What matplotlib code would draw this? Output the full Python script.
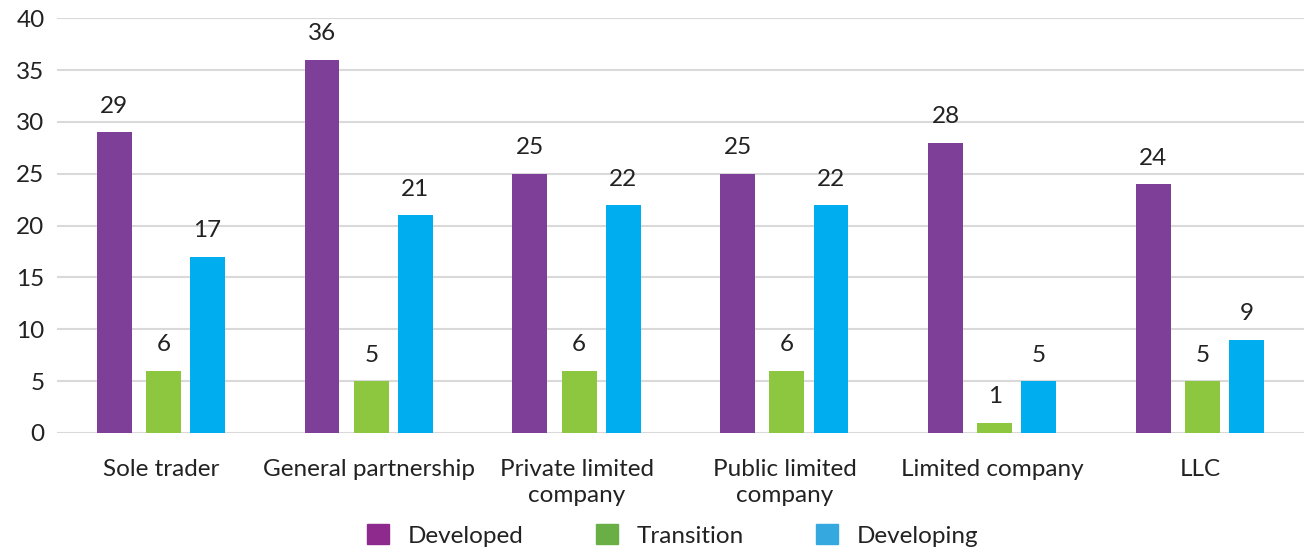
import matplotlib
matplotlib.use("Agg")
from matplotlib import pyplot as plt
from matplotlib.patches import Patch
import numpy as np

categories = ["Sole trader", "General partnership", "Private limited\ncompany",
              "Public limited\ncompany", "Limited company", "LLC"]
developed = [29, 36, 25, 25, 28, 24]
transition = [6, 5, 6, 6, 1, 5]
developing = [17, 21, 22, 22, 5, 9]

series = ["Developed", "Transition", "Developing"]
bar_colors = ["#7E3F98", "#8DC63F", "#00AEEF"]
legend_colors = ["#8E2A8E", "#6AAF45", "#35A8E0"]
offsets = [-0.225, 0.012, 0.224]

plt.rcParams['font.family'] = ['Lato', 'DejaVu Sans']
text_color = "#222222"
fs = 17.5

fig = plt.figure(figsize=(13.04, 5.52), dpi=100)
ax = fig.add_axes([0.0437, 0.2156, 0.9563, 0.7515])

x = np.arange(len(categories))
for vals, col, off in zip([developed, transition, developing], bar_colors, offsets):
    bars = ax.bar(x + off, vals, width=0.168, color=col, zorder=3)
    for b, v in zip(bars, vals):
        ax.annotate(str(v), (b.get_x() + b.get_width() / 2, v),
                    xytext=(0, 11), textcoords="offset points",
                    ha="center", va="bottom", fontsize=fs, color=text_color)

ax.set_ylim(0, 40)
ax.set_xlim(-0.5, len(categories) - 0.5)
ax.set_yticks(range(0, 41, 5))
ax.yaxis.grid(True, color="#D9D9D9", linewidth=1.5, zorder=0)
ax.set_axisbelow(True)
for s in ax.spines.values():
    s.set_visible(False)
ax.set_xticks(x)
ax.set_xticklabels(categories, linespacing=1.3)
ax.tick_params(axis="both", length=0, labelsize=fs, colors=text_color)
ax.tick_params(axis="x", pad=19)
ax.tick_params(axis="y", pad=9)

handles = [Patch(color=c, label=s) for c, s in zip(legend_colors, series)]
fig.legend(handles=handles, loc="lower center", bbox_to_anchor=(0.516, -0.03), ncol=3,
           frameon=False, fontsize=fs, handlelength=0.9, handleheight=0.9,
           columnspacing=2.95, handletextpad=0.8, labelcolor=text_color)

fig.savefig("out.png", dpi=100)
